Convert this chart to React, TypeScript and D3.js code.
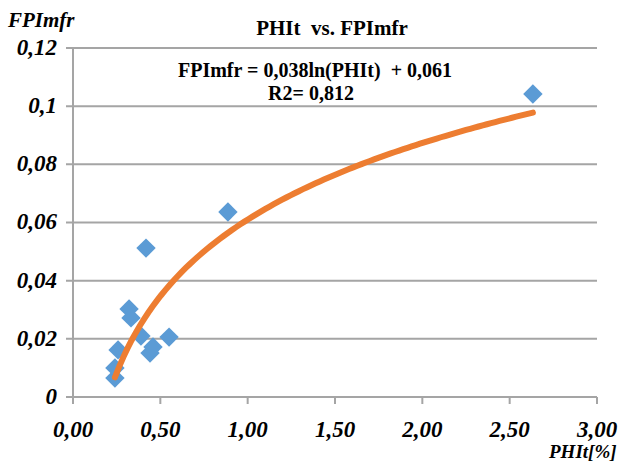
import React from 'react';
import * as d3 from 'd3';

// PHIt [%] vs FPImfr sample points
const phit = [0.24, 0.24, 0.258, 0.321, 0.332, 0.389, 0.418, 0.441, 0.458, 0.55, 0.887, 2.633];
const fpimfr = [0.0065, 0.01, 0.0162, 0.0303, 0.0272, 0.021, 0.0512, 0.0151, 0.0172, 0.0206, 0.0636, 0.1042];

const xTicks = [0, 0.5, 1, 1.5, 2, 2.5, 3];
const yTicks = [0, 0.02, 0.04, 0.06, 0.08, 0.1, 0.12];
const yTickLabels = ['0', '0,02', '0,04', '0,06', '0,08', '0,1', '0,12'];

// logarithmic trend line: y = a ln(x) + b
const trendA = 0.038;
const trendB = 0.061;

const W = 628;
const H = 461;
const margin = { top: 48, right: 31, bottom: 64, left: 73 };

const fmtX = (v: number) => v.toFixed(2).replace('.', ',');
const nb = '\u00a0';

const App = () => {
    const innerW = W - margin.left - margin.right;
    const innerH = H - margin.top - margin.bottom;

    const x = d3.scaleLinear().domain([0, 3]).range([0, innerW]);
    const y = d3.scaleLinear().domain([0, 0.12]).range([innerH, 0]);

    const xmin = d3.min(phit) as number;
    const xmax = d3.max(phit) as number;
    const trendPts = d3.range(0, 101).map((i) => {
        const v = xmin + ((xmax - xmin) * i) / 100;
        return [v, trendA * Math.log(v) + trendB] as [number, number];
    });
    const trendPath = d3.line<[number, number]>()
        .x((d) => x(d[0]))
        .y((d) => y(d[1]))(trendPts);

    const diamond = d3.symbol().type(d3.symbolDiamond2).size(240)();

    const serif = '"Liberation Serif", "Times New Roman", serif';
    const grid = '#a5a5a5';

    return (
        <svg
            width={W}
            height={H}
            style={{ position: 'absolute', left: 0, top: 0, background: '#fff' }}
            fontFamily={serif}
        >
            <g transform={`translate(${margin.left},${margin.top})`}>
                {/* grid lines */}
                {yTicks.map((t) => (
                    <line key={t} x1={-7} x2={innerW} y1={y(t)} y2={y(t)} stroke={grid} strokeWidth={2} />
                ))}
                {/* axis */}
                <line x1={0} x2={0} y1={0} y2={innerH + 7} stroke={grid} strokeWidth={2} />
                {xTicks.map((t) => (
                    <line key={t} x1={x(t)} x2={x(t)} y1={innerH} y2={innerH + 7} stroke={grid} strokeWidth={2} />
                ))}
                {/* tick labels */}
                {yTicks.map((t, i) => (
                    <text
                        key={t}
                        x={-16}
                        y={y(t)}
                        dy="0.3em"
                        textAnchor="end"
                        fontSize={23}
                        fontWeight="bold"
                        fontStyle="italic"
                    >
                        {yTickLabels[i]}
                    </text>
                ))}
                {xTicks.map((t) => (
                    <text
                        key={t}
                        x={x(t)}
                        y={innerH + 40}
                        textAnchor="middle"
                        fontSize={23}
                        fontWeight="bold"
                        fontStyle="italic"
                    >
                        {fmtX(t)}
                    </text>
                ))}
                {/* points */}
                {phit.map((v, i) => (
                    <path
                        key={i}
                        d={diamond as string}
                        transform={`translate(${x(v)},${y(fpimfr[i])})`}
                        fill="#5b9bd5"
                    />
                ))}
                {/* trend */}
                <path d={trendPath as string} fill="none" stroke="#ed7d31" strokeWidth={6} strokeLinecap="round" />
            </g>
            {/* titles */}
            <text x={332} y={35} textAnchor="middle" fontSize={21} fontWeight="bold">
                {`PHIt ${nb}vs. FPImfr`}
            </text>
            <text x={315} y={77} textAnchor="middle" fontSize={20} fontWeight="bold">
                {`FPImfr = 0,038ln(PHIt) ${nb}+ 0,061`}
            </text>
            <text x={311} y={100} textAnchor="middle" fontSize={20} fontWeight="bold">
                R2= 0,812
            </text>
            <text x={8} y={27} fontSize={21} fontWeight="bold" fontStyle="italic">
                FPImfr
            </text>
            <text x={549} y={458} fontSize={19} fontWeight="bold" fontStyle="italic">
                PHIt[%]
            </text>
        </svg>
    );
};

export default App;
